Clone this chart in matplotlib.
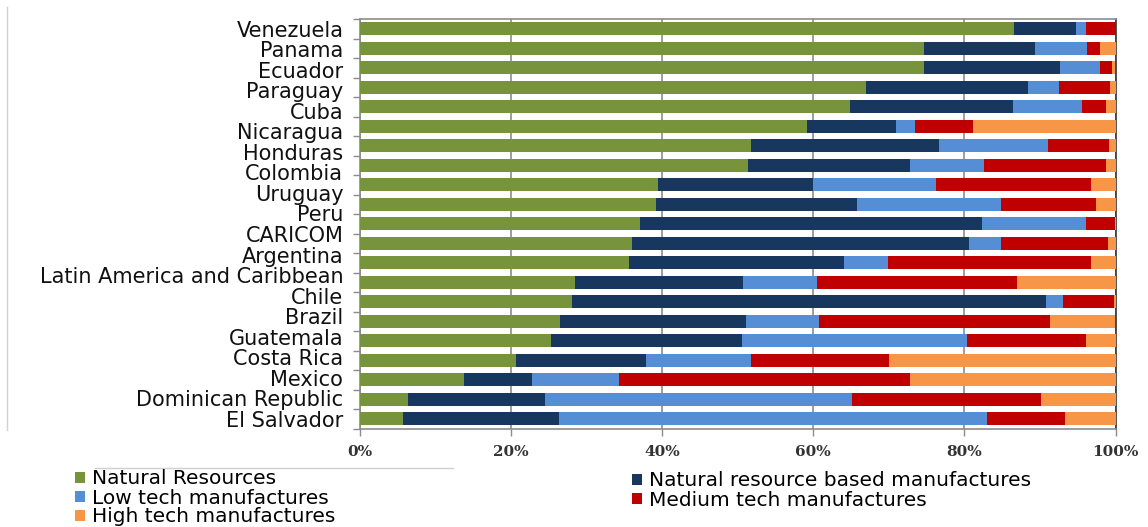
import matplotlib
matplotlib.use("Agg")
import matplotlib.pyplot as plt
from matplotlib.lines import Line2D
from matplotlib.patches import Patch
import numpy as np

# ---- data (share of exports, %) ----
labels = ["Venezuela", "Panama", "Ecuador", "Paraguay", "Cuba", "Nicaragua",
          "Honduras", "Colombia", "Uruguay", "Peru", "CARICOM", "Argentina",
          "Latin America and Caribbean", "Chile", "Brazil", "Guatemala",
          "Costa Rica", "Mexico", "Dominican Republic", "El Salvador"]

natural_resources = [86.6, 74.7, 74.7, 67.0, 64.8, 59.1, 51.7, 51.3, 39.4, 39.2, 37.1,
                     36.0, 35.6, 28.5, 28.1, 26.5, 25.3, 20.7, 13.8, 6.4, 5.7]
nr_based_manuf = [8.2, 14.6, 17.9, 21.4, 21.6, 11.8, 24.9, 21.5, 20.6, 26.6, 45.2,
                  44.6, 28.4, 22.2, 62.7, 24.6, 25.3, 17.1, 9.0, 18.1, 20.6]
low_tech = [1.3, 6.9, 5.3, 4.1, 9.1, 2.6, 14.4, 9.8, 16.2, 19.0, 13.8,
            4.2, 5.9, 9.8, 2.2, 9.7, 29.8, 13.9, 11.5, 40.6, 56.7]
medium_tech = [3.9, 1.7, 1.6, 6.8, 3.3, 7.6, 8.2, 16.2, 20.6, 12.6, 3.8,
               14.2, 26.9, 26.4, 6.8, 30.5, 15.7, 18.3, 38.5, 25.0, 10.3]
high_tech = [0.0, 2.1, 0.5, 0.7, 1.2, 18.9, 0.8, 1.2, 3.2, 2.6, 0.1,
             1.0, 3.2, 13.1, 0.2, 8.7, 3.9, 30.0, 27.2, 9.9, 6.7]

series_names = ["Natural Resources", "Natural resource based manufactures",
                "Low tech manufactures", "Medium tech manufactures",
                "High tech manufactures"]
series_values = [natural_resources, nr_based_manuf, low_tech, medium_tech, high_tech]
colors = ["#77933C", "#17375E", "#558ED5", "#C00000", "#F79646"]

x_ticks = [0, 20, 40, 60, 80, 100]
x_ticklabels = ["0%", "20%", "40%", "60%", "80%", "100%"]

W, H = 1148, 527
fig = plt.figure(figsize=(W / 100, H / 100), dpi=100)
ax = fig.add_axes([360 / W, 1 - 428.5 / H, (1115.5 - 360) / W, (428.5 - 19) / H])

n = len(natural_resources)
ypos = np.arange(n)
left = np.zeros(n)
for name, vals, col in zip(series_names, series_values, colors):
    v = np.array(vals, dtype=float)
    ax.barh(ypos, v, left=left, height=0.66, color=col, edgecolor="none", zorder=3, label=name)
    left += v

ax.set_xlim(0, 100)
ax.set_ylim(n - 0.5, -0.5)

grid_c = "#8C8C8C"
ax.set_xticks(x_ticks)
ax.set_xticklabels(x_ticklabels, family="DejaVu Serif", fontsize=11, fontweight="bold",
                   color="#333333")
ax.tick_params(axis="x", length=5, width=1, color=grid_c, pad=7)
ax.xaxis.grid(True, color=grid_c, linewidth=1.2, zorder=0)

# category labels spread between first and last bar
lab_pos = np.linspace(0, n - 1, len(labels))
ax.set_yticks(lab_pos)
ax.set_yticklabels(labels, family="DejaVu Sans", fontsize=15, color="#111111")
ax.tick_params(axis="y", which="major", length=0, pad=12)
ax.set_yticks(np.arange(-0.5, n + 0.5, 1.0), minor=True)
ax.tick_params(axis="y", which="minor", length=5, width=1, color=grid_c)

for s in ["left", "bottom", "top"]:
    ax.spines[s].set_color(grid_c)
    ax.spines[s].set_linewidth(1.2)
ax.spines["right"].set_color("#333333")
ax.spines["right"].set_linewidth(1.2)
ax.spines["right"].set_linestyle((0, (2, 1)))

# legends
h = {nm: Patch(facecolor=c, edgecolor="none") for nm, c in zip(series_names, colors)}
left_items = ["Natural Resources", "Low tech manufactures", "High tech manufactures"]
right_items = ["Natural resource based manufactures", "Medium tech manufactures"]
common = dict(frameon=False, handlelength=0.5, handleheight=0.5,
              handletextpad=0.35, labelspacing=0.0, borderpad=0.0, borderaxespad=0.0,
              loc="upper left", prop={"family": "DejaVu Sans", "size": 14.5})
leg1 = fig.legend([h[k] for k in left_items], left_items,
                  bbox_to_anchor=(75 / W, 1 - 469.5 / H), **common)
leg2 = fig.legend([h[k] for k in right_items], right_items,
                  bbox_to_anchor=(632 / W, 1 - 471.5 / H), **common)

# faint decorative lines from the original image
fig.add_artist(Line2D([95 / W, 453 / W], [1 - 468 / H, 1 - 468 / H], color="#D0D0D0", lw=1))
fig.add_artist(Line2D([7 / W, 7 / W], [1 - 7 / H, 1 - 430 / H], color="#D0D0D0", lw=1))

fig.savefig("out.png", dpi=100)
